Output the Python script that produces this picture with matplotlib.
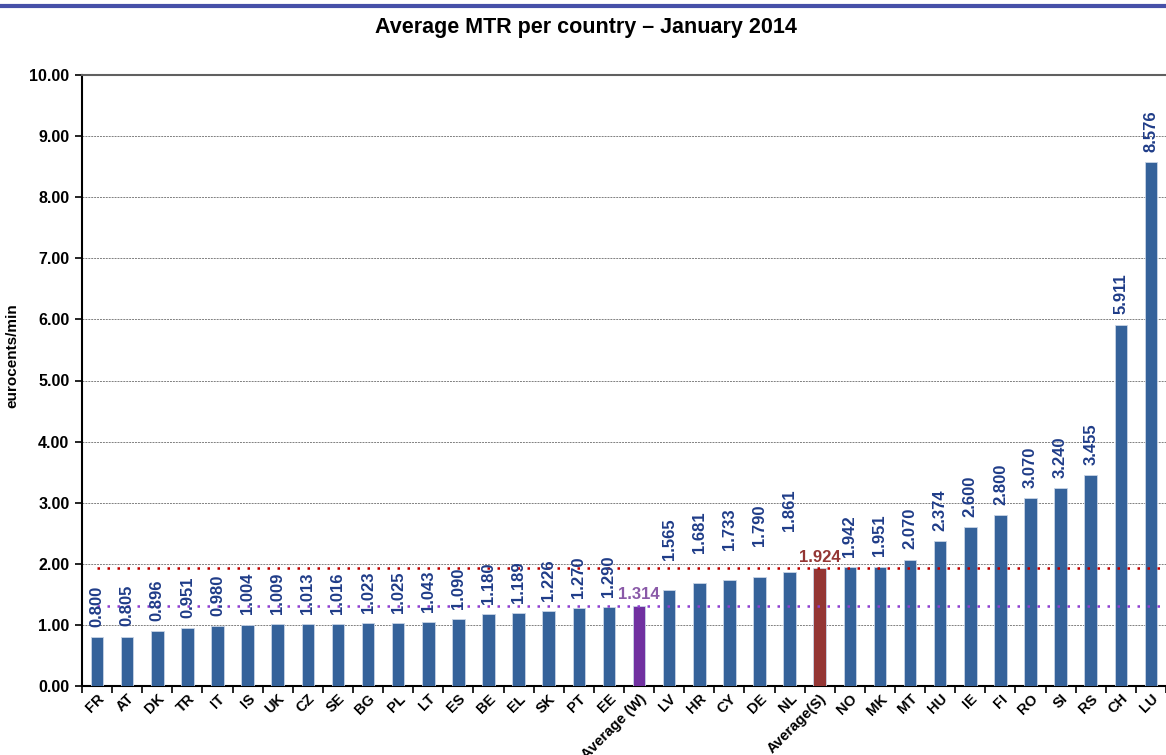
import matplotlib.pyplot as plt
from matplotlib.lines import Line2D
import numpy as np

plt.rcParams['font.family'] = ['Liberation Sans', 'DejaVu Sans']

countries = ['FR', 'AT', 'DK', 'TR', 'IT', 'IS', 'UK', 'CZ', 'SE', 'BG', 'PL', 'LT', 'ES',
             'BE', 'EL', 'SK', 'PT', 'EE', 'Average (W)', 'LV', 'HR', 'CY', 'DE', 'NL',
             'Average(S)', 'NO', 'MK', 'MT', 'HU', 'IE', 'FI', 'RO', 'SI', 'RS', 'CH', 'LU']
mtr = [0.800, 0.805, 0.896, 0.951, 0.980, 1.004, 1.009, 1.013, 1.016, 1.023, 1.025, 1.043,
       1.090, 1.180, 1.189, 1.226, 1.270, 1.290, 1.314, 1.565, 1.681, 1.733, 1.790, 1.861,
       1.924, 1.942, 1.951, 2.070, 2.374, 2.600, 2.800, 3.070, 3.240, 3.455, 5.911, 8.576]
avg_w = 1.314
avg_s = 1.924

bar_col = '#35629a'
col_w = '#7030a0'
col_s = '#943634'
lbl_col = '#1f3c88'

fig = plt.figure(figsize=(11.66, 7.55), dpi=100)
ax = fig.add_axes([82 / 1166, 1 - 686 / 755, 1 - 82 / 1166, (686 - 75) / 755])

x = np.arange(len(countries))
colors = []
for c in countries:
    if c == 'Average (W)':
        colors.append(col_w)
    elif c == 'Average(S)':
        colors.append(col_s)
    else:
        colors.append(bar_col)
ax.bar(x, mtr, width=0.42, color=colors, edgecolor='#c8d4e6', linewidth=0.6, zorder=3)

# average reference lines
ax.plot([x[0], x[-1] + 0.5], [avg_s, avg_s], color='#c00000', linestyle=(0, (1, 3)), lw=1.8, zorder=4)
ax.plot([x[0], x[-1] + 0.5], [avg_w, avg_w], color='#8e3fd0', linestyle=(0, (1, 3)), lw=1.8, zorder=4)

# value labels (the ones just under the red line are lifted above it)
for xi, v, c in zip(x, mtr, countries):
    if c == 'Average (W)':
        ax.text(xi, v + 0.06, f'{v:.3f}', color='#8a5aa8', fontsize=12, fontweight='bold',
                ha='center', va='bottom', zorder=5)
    elif c == 'Average(S)':
        ax.text(xi, v + 0.06, f'{v:.3f}', color=col_s, fontsize=12, fontweight='bold',
                ha='center', va='bottom', zorder=5)
    else:
        off = 0.17
        if 1.5 < v < avg_s:
            off = 0.5 if v < 1.85 else 0.68
        ax.text(xi, v + off, f'{v:.3f}', color=lbl_col, fontsize=12, fontweight='bold',
                rotation=90, ha='center', va='bottom', zorder=5)

ax.set_xlim(-0.5, len(countries) - 0.5)
ax.set_ylim(0, 10)
ax.set_yticks(np.arange(0, 11, 1))
ax.set_yticklabels([f'{t:.2f}' for t in range(11)], fontsize=11.5, fontweight='bold')
ax.yaxis.grid(True, color='#808080', linestyle=(0, (2, 1)), lw=0.7, zorder=0)

ax.set_xticks(x)
ax.set_xticklabels(countries, rotation=45, ha='right', rotation_mode='anchor',
                   fontsize=10.5, fontweight='bold')
ax.tick_params(axis='x', length=0, pad=4)
ax.set_xticks(np.arange(-0.5, len(countries), 1), minor=True)
ax.tick_params(axis='x', which='minor', length=5, width=1.2, color='black')
ax.tick_params(axis='y', length=5, width=1.2, pad=4)

ax.set_ylabel('eurocents/min', fontsize=11, fontweight='bold')
ax.yaxis.set_label_coords(-0.058, 0.54)

for s in ['left', 'bottom']:
    ax.spines[s].set_color('black')
    ax.spines[s].set_linewidth(1.5)
ax.spines['top'].set_color('#606060')
ax.spines['top'].set_linewidth(1.5)
ax.spines['right'].set_visible(False)

fig.add_artist(Line2D([0, 1], [1 - 6 / 755, 1 - 6 / 755], color='#4650a8', lw=3))
fig.text(586 / 1166, 1 - 28 / 755, 'Average MTR per country \u2013 January 2014',
         ha='center', va='center', fontsize=15.5, fontweight='bold')

fig.savefig('out.png', dpi=100)
